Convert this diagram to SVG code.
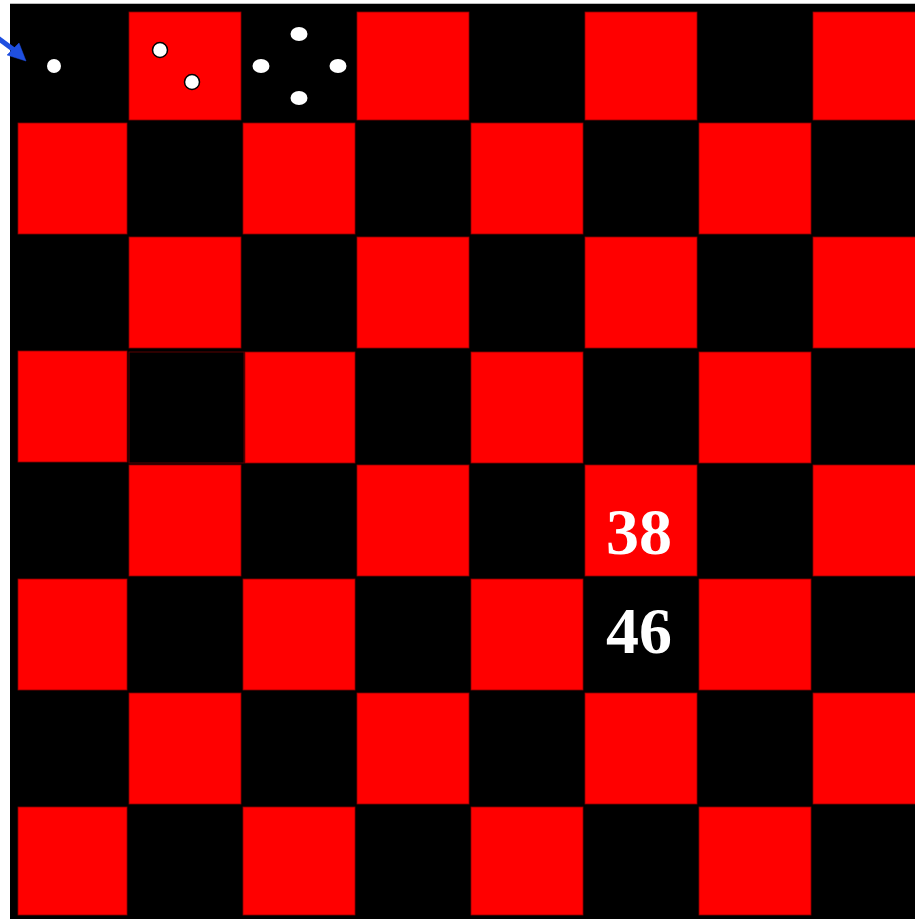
<svg xmlns="http://www.w3.org/2000/svg" width="915" height="919" viewBox="0 0 915 919">
<style>
.r{fill:#ff0000;stroke:#8b0000;stroke-width:0.8}
.dot{fill:#fff}
.num{font-family:"Liberation Serif","Times New Roman",serif;font-weight:bold;font-size:66px;text-anchor:middle}
.arrow{stroke:#1f4fe0;fill:#1f4fe0}
</style>
<rect x="0" y="0" width="915" height="919" fill="#fff"/>
<line x1="10" y1="3.5" x2="915" y2="3.5" stroke="#bbb" stroke-width="1"/>
<rect id="board" x="10" y="4" width="905" height="915" fill="#000"/>
<g id="squares">
<rect class="r" x="129" y="12" width="112" height="108"/>
<rect class="r" x="357" y="12" width="112" height="108"/>
<rect class="r" x="585" y="12" width="112" height="108"/>
<rect class="r" x="813" y="12" width="103" height="108"/>
<rect class="r" x="18" y="123" width="109" height="111"/>
<rect class="r" x="243" y="123" width="112" height="111"/>
<rect class="r" x="471" y="123" width="112" height="111"/>
<rect class="r" x="699" y="123" width="112" height="111"/>
<rect class="r" x="129" y="237" width="112" height="111"/>
<rect class="r" x="357" y="237" width="112" height="111"/>
<rect class="r" x="585" y="237" width="112" height="111"/>
<rect class="r" x="813" y="237" width="103" height="111"/>
<rect class="r" x="18" y="351" width="109" height="111"/>
<rect x="129" y="352" width="115" height="111" fill="none" stroke="#5a0000" stroke-width="1"/>
<rect class="r" x="245" y="352" width="110" height="111"/>
<rect class="r" x="471" y="352" width="112" height="111"/>
<rect class="r" x="699" y="352" width="112" height="111"/>
<rect class="r" x="129" y="465" width="112" height="111"/>
<rect class="r" x="357" y="465" width="112" height="111"/>
<rect class="r" x="585" y="465" width="112" height="111"/>
<rect class="r" x="813" y="465" width="103" height="111"/>
<rect class="r" x="18" y="579" width="109" height="111"/>
<rect class="r" x="243" y="579" width="112" height="111"/>
<rect class="r" x="471" y="579" width="112" height="111"/>
<rect class="r" x="699" y="579" width="112" height="111"/>
<rect class="r" x="129" y="693" width="112" height="111"/>
<rect class="r" x="357" y="693" width="112" height="111"/>
<rect class="r" x="585" y="693" width="112" height="111"/>
<rect class="r" x="813" y="693" width="103" height="111"/>
<rect class="r" x="18" y="807" width="109" height="108"/>
<rect class="r" x="243" y="807" width="112" height="108"/>
<rect class="r" x="471" y="807" width="112" height="108"/>
<rect class="r" x="699" y="807" width="112" height="108"/>
</g>
<g id="dots">
<circle class="dot" cx="54" cy="66" r="7"/>
<circle class="dot" cx="160" cy="50" r="7.5" stroke="#000" stroke-width="1.5"/>
<circle class="dot" cx="192" cy="82" r="7.5" stroke="#000" stroke-width="1.5"/>
<ellipse class="dot" cx="299" cy="34" rx="8.5" ry="7"/>
<ellipse class="dot" cx="261" cy="66" rx="8.5" ry="7"/>
<ellipse class="dot" cx="338" cy="66" rx="8.5" ry="7"/>
<ellipse class="dot" cx="299" cy="98" rx="8.5" ry="7"/>
</g>
<g id="connectors">
<line class="arrow" x1="-2" y1="38" x2="14" y2="50" stroke-width="5"/>
<polygon class="arrow" points="26,61 19,43 7,55" stroke-width="0.5"/>
</g>
<g id="labels">
<text class="num" x="639" y="554" fill="#fff">38</text>
<text class="num" x="639" y="653" fill="#fff">46</text>
</g>
</svg>
